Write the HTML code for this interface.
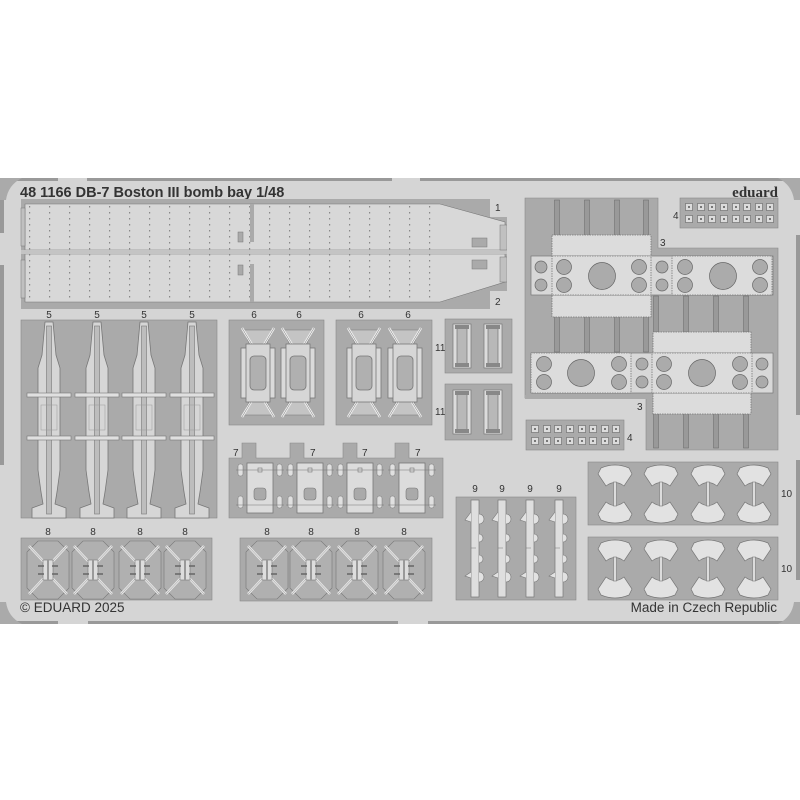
<!DOCTYPE html>
<html><head><meta charset="utf-8"><style>
html,body{margin:0;padding:0;background:#fff;}
svg{display:block}
text{font-family:"Liberation Sans",sans-serif;fill:#333}
</style></head><body>
<svg width="800" height="800" viewBox="0 0 800 800" xmlns="http://www.w3.org/2000/svg">
<defs>
<pattern id="dots" width="20" height="6" patternUnits="userSpaceOnUse">
<rect x="9" y="2" width="1.2" height="1.5" fill="#888"/>
</pattern>
<g id="r5">
<path d="M-4,322 L4,322 L7,355 L11,368 L11,470 L8,492 L6,504 L17,508 L17,518 L-17,518 L-17,508 L-6,504 L-8,492 L-11,470 L-11,368 L-7,355 Z" fill="#d6d6d6" stroke="#777" stroke-width="0.8"/>
<rect x="-2.5" y="326" width="5" height="188" fill="#bdbdbd" stroke="#777" stroke-width="0.6"/>
<rect x="-22" y="393" width="44" height="4" fill="#e0e0e0" stroke="#777" stroke-width="0.6"/>
<rect x="-22" y="436" width="44" height="4" fill="#e0e0e0" stroke="#777" stroke-width="0.6"/>
<rect x="-8" y="405" width="16" height="25" fill="none" stroke="#999" stroke-width="0.5"/>
</g>
<g id="p6">
<path d="M-15,330 L15,330 L8,345 L-8,345 Z M-15,415 L15,415 L8,400 L-8,400 Z" fill="#c4c4c4" stroke="#777" stroke-width="0.6"/>
<path d="M-16,328 L-4,348 M16,328 L4,348 M-16,417 L-4,397 M16,417 L4,397" stroke="#eee" stroke-width="2.5"/>
<path d="M-16,328 L-4,348 M16,328 L4,348 M-16,417 L-4,397 M16,417 L4,397" stroke="#777" stroke-width="0.5" fill="none"/>
<rect x="-17" y="348" width="34" height="50" fill="#dadada" stroke="#777" stroke-width="0.8"/>
<rect x="-12" y="344" width="24" height="58" fill="#d6d6d6" stroke="#777" stroke-width="0.8"/>
<rect x="-8" y="356" width="16" height="34" rx="4" fill="#b0b0b0" stroke="#777" stroke-width="0.8"/>
</g>
<g id="p7">
<rect x="-13" y="463" width="26" height="50" fill="#dcdcdc" stroke="#777" stroke-width="0.8"/>
<rect x="-2" y="468" width="4" height="4" fill="none" stroke="#777" stroke-width="0.6"/>
<rect x="-6" y="488" width="12" height="12" rx="3" fill="#aaa" stroke="#777" stroke-width="0.6"/>
<rect x="-22" y="464" width="5" height="12" rx="2" fill="#e0e0e0" stroke="#777" stroke-width="0.5"/>
<rect x="17" y="464" width="5" height="12" rx="2" fill="#e0e0e0" stroke="#777" stroke-width="0.5"/>
<rect x="-22" y="496" width="5" height="12" rx="2" fill="#e0e0e0" stroke="#777" stroke-width="0.5"/>
<rect x="17" y="496" width="5" height="12" rx="2" fill="#e0e0e0" stroke="#777" stroke-width="0.5"/>
<line x1="-24" y1="470" x2="24" y2="470" stroke="#777" stroke-width="0.5"/>
<line x1="-24" y1="505" x2="24" y2="505" stroke="#777" stroke-width="0.5"/>
</g>
<g id="p8">
<path d="M-10,541 L10,541 L21,552 L21,588 L10,599 L-10,599 L-21,588 L-21,552 Z" fill="#b0b0b0" stroke="#777" stroke-width="0.6"/>
<path d="M-19,546 L-4,562 M19,546 L4,562 M-19,594 L-4,578 M19,594 L4,578" stroke="#e6e6e6" stroke-width="2.5"/>
<path d="M-19,546 L-4,562 M19,546 L4,562 M-19,594 L-4,578 M19,594 L4,578" stroke="#777" stroke-width="0.4"/>
<rect x="-5" y="560" width="10" height="20" fill="#ddd" stroke="#777" stroke-width="0.6"/>
<rect x="-1" y="560" width="2" height="20" fill="#999"/>
<path d="M-10,566 h6 M4,566 h6 M-10,574 h6 M4,574 h6" stroke="#666" stroke-width="1.5"/>
</g>
<g id="p9">
<rect x="-4" y="500" width="8" height="97" fill="#dedede" stroke="#777" stroke-width="0.7"/>
<path d="M-4,512 L-10,520 L-4,522 M4,514 a5,5 0 0 1 0,10 M4,534 a4,4 0 0 1 0,8 M-4,548 h5 M4,555 a4,4 0 0 1 0,8 M-4,572 L-10,576 L-4,578 M4,572 a5,5 0 0 1 0,10" fill="#e2e2e2" stroke="#777" stroke-width="0.6"/>
</g>
<g id="p10">
<path d="M-14,4 Q0,-2 14,4 L17,10 L9,22 Q0,15 -9,22 L-17,10 Z" fill="#e2e2e2" stroke="#777" stroke-width="0.7"/>
<path d="M-14,56 Q0,62 14,56 L17,50 L9,38 Q0,45 -9,38 L-17,50 Z" fill="#e2e2e2" stroke="#777" stroke-width="0.7"/>
<rect x="-1.5" y="18" width="3" height="24" fill="#dcdcdc" stroke="#777" stroke-width="0.6"/>
</g>
<g id="p11">
<rect x="-9" y="0" width="18" height="44" fill="#dcdcdc" stroke="#777" stroke-width="0.7"/>
<rect x="-5" y="3" width="10" height="38" fill="#b8b8b8" stroke="#666" stroke-width="0.6"/>
<rect x="-7" y="1" width="14" height="4" fill="#888"/>
<rect x="-7" y="39" width="14" height="4" fill="#888"/>
</g>
<g id="sq">
<rect x="-3.5" y="-3.5" width="7" height="7" fill="#dcdcdc" stroke="#666" stroke-width="0.6"/>
<rect x="-1" y="-1" width="2" height="2" fill="#777"/>
</g>
<g id="pin">
<rect x="-2.5" y="0" width="5" height="36" fill="#999" stroke="#666" stroke-width="0.5"/>
</g>
</defs>

<rect x="0" y="178" width="800" height="446" fill="#d5d5d5"/>
<rect x="0" y="178" width="58" height="3" fill="#999"/>
<rect x="87" y="178" width="305" height="3" fill="#999"/>
<rect x="420" y="178" width="372" height="3" fill="#999"/>
<rect x="0" y="621" width="58" height="3" fill="#999"/>
<rect x="88" y="621" width="310" height="3" fill="#999"/>
<rect x="428" y="621" width="370" height="3" fill="#999"/>
<rect x="0" y="178" width="4" height="55" fill="#999"/>
<rect x="0" y="265" width="4" height="200" fill="#999"/>
<rect x="796" y="235" width="4" height="180" fill="#999"/>
<rect x="796" y="460" width="4" height="120" fill="#999"/>
<path d="M0,178 L22,178 Q8,185 6,200 L0,200Z" fill="#aaa"/>
<path d="M800,178 L778,178 Q792,185 794,200 L800,200Z" fill="#aaa"/>
<path d="M0,624 L22,624 Q8,617 6,602 L0,602Z" fill="#aaa"/>
<path d="M800,624 L778,624 Q792,617 794,602 L800,602Z" fill="#aaa"/>

<text x="20" y="197" font-size="14.5" font-weight="bold">48 1166 DB-7 Boston III bomb bay 1/48</text>
<text x="778" y="197" font-size="15" font-weight="bold" text-anchor="end" style="font-family:'Liberation Serif',serif">eduard</text>

<rect x="21" y="199" width="486" height="110" fill="#aaa"/>
<path d="M25,204 L440,204 L505,222 L505,250 L25,250 Z" fill="#d8d8d8" stroke="#777" stroke-width="0.6"/>
<path d="M25,254 L505,254 L505,282 L440,302 L25,302 Z" fill="#d8d8d8" stroke="#777" stroke-width="0.6"/>
<rect x="25" y="204" width="415" height="46" fill="url(#dots)"/>
<rect x="25" y="254" width="415" height="48" fill="url(#dots)"/>
<rect x="21" y="250" width="486" height="4" fill="#c4c4c4"/>
<rect x="21" y="208" width="4" height="38" fill="#c0c0c0" stroke="#777" stroke-width="0.5"/>
<rect x="21" y="260" width="4" height="38" fill="#c0c0c0" stroke="#777" stroke-width="0.5"/>
<rect x="250" y="204" width="4" height="38" fill="#aaa"/>
<rect x="250" y="264" width="4" height="38" fill="#aaa"/>
<rect x="238" y="232" width="5" height="10" fill="#aaa" stroke="#777" stroke-width="0.5"/>
<rect x="238" y="265" width="5" height="10" fill="#aaa" stroke="#777" stroke-width="0.5"/>
<rect x="472" y="238" width="15" height="9" fill="#aaa" stroke="#777" stroke-width="0.5"/>
<rect x="472" y="260" width="15" height="9" fill="#aaa" stroke="#777" stroke-width="0.5"/>
<rect x="500" y="225" width="7" height="25" fill="#c0c0c0" stroke="#777" stroke-width="0.5"/>
<rect x="500" y="257" width="7" height="25" fill="#c0c0c0" stroke="#777" stroke-width="0.5"/>
<rect x="507" y="199" width="10" height="110" fill="#d5d5d5"/>
<rect x="490" y="199" width="17" height="18" fill="#d5d5d5"/>
<rect x="490" y="291" width="17" height="18" fill="#d5d5d5"/>
<text x="495" y="211" font-size="10">1</text>
<text x="495" y="305" font-size="10">2</text>

<g font-size="10" text-anchor="middle">
<text x="49" y="318">5</text><text x="97" y="318">5</text><text x="144" y="318">5</text><text x="192" y="318">5</text>
<text x="254" y="318">6</text><text x="299" y="318">6</text><text x="361" y="318">6</text><text x="408" y="318">6</text>
</g>

<rect x="21" y="320" width="196" height="198" fill="#aaa" stroke="#888" stroke-width="0.6"/>
<use href="#r5" x="49"/><use href="#r5" x="97"/><use href="#r5" x="144"/><use href="#r5" x="192"/>

<rect x="229" y="320" width="95" height="105" fill="#aaa" stroke="#888" stroke-width="0.6"/>
<rect x="336" y="320" width="96" height="105" fill="#aaa" stroke="#888" stroke-width="0.6"/>
<use href="#p6" x="258"/><use href="#p6" x="298"/><use href="#p6" x="364"/><use href="#p6" x="405"/>

<rect x="445" y="319" width="67" height="54" fill="#aaa" stroke="#888" stroke-width="0.6"/>
<rect x="445" y="384" width="67" height="56" fill="#aaa" stroke="#888" stroke-width="0.6"/>
<use href="#p11" x="462" y="324"/><use href="#p11" x="493" y="324"/>
<use href="#p11" x="462" y="390"/><use href="#p11" x="493" y="390"/>
<text x="435" y="351" font-size="10">11</text>
<text x="435" y="415" font-size="10">11</text>

<path d="M229,458 L242,458 L242,443 L256,443 L256,458 L290,458 L290,443 L304,443 L304,458 L343,458 L343,443 L357,443 L357,458 L395,458 L395,443 L409,443 L409,458 L443,458 L443,518 L229,518 Z" fill="#aaa" stroke="#888" stroke-width="0.6"/>
<use href="#p7" x="260"/><use href="#p7" x="310"/><use href="#p7" x="360"/><use href="#p7" x="412"/>
<g font-size="10"><text x="233" y="456">7</text><text x="310" y="456">7</text><text x="362" y="456">7</text><text x="415" y="456">7</text></g>

<rect x="21" y="538" width="191" height="62" fill="#aaa" stroke="#888" stroke-width="0.6"/>
<rect x="240" y="538" width="192" height="63" fill="#aaa" stroke="#888" stroke-width="0.6"/>
<use href="#p8" x="48"/><use href="#p8" x="93"/><use href="#p8" x="140"/><use href="#p8" x="185"/>
<use href="#p8" x="267"/><use href="#p8" x="311"/><use href="#p8" x="357"/><use href="#p8" x="404"/>
<g font-size="10" text-anchor="middle">
<text x="48" y="535">8</text><text x="93" y="535">8</text><text x="140" y="535">8</text><text x="185" y="535">8</text>
<text x="267" y="535">8</text><text x="311" y="535">8</text><text x="357" y="535">8</text><text x="404" y="535">8</text>
</g>

<rect x="456" y="497" width="120" height="103" fill="#aaa" stroke="#888" stroke-width="0.6"/>
<use href="#p9" x="475"/><use href="#p9" x="502"/><use href="#p9" x="530"/><use href="#p9" x="559"/>
<g font-size="10" text-anchor="middle"><text x="475" y="492">9</text><text x="502" y="492">9</text><text x="530" y="492">9</text><text x="559" y="492">9</text></g>

<rect x="588" y="462" width="190" height="63" fill="#aaa" stroke="#888" stroke-width="0.6"/>
<rect x="588" y="537" width="190" height="63" fill="#aaa" stroke="#888" stroke-width="0.6"/>
<use href="#p10" x="615" y="464"/><use href="#p10" x="661" y="464"/><use href="#p10" x="708" y="464"/><use href="#p10" x="754" y="464"/>
<use href="#p10" x="615" y="539"/><use href="#p10" x="661" y="539"/><use href="#p10" x="708" y="539"/><use href="#p10" x="754" y="539"/>
<text x="781" y="497" font-size="10">10</text>
<text x="781" y="572" font-size="10">10</text>

<rect x="680" y="198" width="98" height="30" fill="#aaa" stroke="#888" stroke-width="0.6"/>
<rect x="526" y="420" width="98" height="30" fill="#aaa" stroke="#888" stroke-width="0.6"/>
<g>
<use href="#sq" x="689" y="207"/><use href="#sq" x="701" y="207"/><use href="#sq" x="712" y="207"/><use href="#sq" x="724" y="207"/><use href="#sq" x="736" y="207"/><use href="#sq" x="747" y="207"/><use href="#sq" x="759" y="207"/><use href="#sq" x="770" y="207"/>
<use href="#sq" x="689" y="219"/><use href="#sq" x="701" y="219"/><use href="#sq" x="712" y="219"/><use href="#sq" x="724" y="219"/><use href="#sq" x="736" y="219"/><use href="#sq" x="747" y="219"/><use href="#sq" x="759" y="219"/><use href="#sq" x="770" y="219"/>
<use href="#sq" x="535" y="429"/><use href="#sq" x="547" y="429"/><use href="#sq" x="558" y="429"/><use href="#sq" x="570" y="429"/><use href="#sq" x="582" y="429"/><use href="#sq" x="593" y="429"/><use href="#sq" x="605" y="429"/><use href="#sq" x="616" y="429"/>
<use href="#sq" x="535" y="441"/><use href="#sq" x="547" y="441"/><use href="#sq" x="558" y="441"/><use href="#sq" x="570" y="441"/><use href="#sq" x="582" y="441"/><use href="#sq" x="593" y="441"/><use href="#sq" x="605" y="441"/><use href="#sq" x="616" y="441"/>
</g>
<text x="673" y="219" font-size="10">4</text>
<text x="627" y="441" font-size="10">4</text>

<path d="M525,198 L658,198 L658,248 L778,248 L778,450 L646,450 L646,398 L525,398 Z" fill="#aaa" stroke="#888" stroke-width="0.6"/>
<use href="#pin" x="557" y="200"/><use href="#pin" x="587" y="200"/><use href="#pin" x="617" y="200"/><use href="#pin" x="646" y="200"/>
<use href="#pin" x="557" y="316"/><use href="#pin" x="587" y="316"/><use href="#pin" x="617" y="316"/><use href="#pin" x="646" y="316"/>
<use href="#pin" x="656" y="296"/><use href="#pin" x="686" y="296"/><use href="#pin" x="716" y="296"/><use href="#pin" x="746" y="296"/>
<use href="#pin" x="656" y="412"/><use href="#pin" x="686" y="412"/><use href="#pin" x="716" y="412"/><use href="#pin" x="746" y="412"/>
<rect x="525" y="395" width="125" height="4" fill="#aaa"/>
<rect x="552" y="235" width="99" height="22" fill="#dcdcdc" stroke="#777" stroke-width="0.8" stroke-dasharray="1.5 1"/>
<rect x="552" y="295" width="99" height="22" fill="#dcdcdc" stroke="#777" stroke-width="0.8" stroke-dasharray="1.5 1"/>
<rect x="531" y="256" width="242" height="39" fill="#d8d8d8" stroke="#777" stroke-width="0.7"/>
<rect x="552" y="256" width="99" height="39" fill="#dcdcdc" stroke="#777" stroke-width="0.8" stroke-dasharray="1.5 1"/>
<rect x="672" y="256" width="100" height="39" fill="#dcdcdc" stroke="#777" stroke-width="0.8" stroke-dasharray="1.5 1"/>
<rect x="653" y="332" width="98" height="22" fill="#dcdcdc" stroke="#777" stroke-width="0.8" stroke-dasharray="1.5 1"/>
<rect x="653" y="392" width="98" height="22" fill="#dcdcdc" stroke="#777" stroke-width="0.8" stroke-dasharray="1.5 1"/>
<rect x="531" y="353" width="242" height="40" fill="#d8d8d8" stroke="#777" stroke-width="0.7"/>
<rect x="531" y="353" width="100" height="40" fill="#dcdcdc" stroke="#777" stroke-width="0.8" stroke-dasharray="1.5 1"/>
<rect x="652" y="353" width="100" height="40" fill="#dcdcdc" stroke="#777" stroke-width="0.8" stroke-dasharray="1.5 1"/>
<g fill="#ababab" stroke="#666" stroke-width="0.7">
<circle cx="541" cy="267" r="6"/><circle cx="541" cy="285" r="6"/>
<circle cx="564" cy="267" r="7.5"/><circle cx="564" cy="285" r="7.5"/>
<circle cx="602" cy="276" r="13.5"/>
<circle cx="639" cy="267" r="7.5"/><circle cx="639" cy="285" r="7.5"/>
<circle cx="662" cy="267" r="6"/><circle cx="662" cy="285" r="6"/>
<circle cx="685" cy="267" r="7.5"/><circle cx="685" cy="285" r="7.5"/>
<circle cx="723" cy="276" r="13.5"/>
<circle cx="760" cy="267" r="7.5"/><circle cx="760" cy="285" r="7.5"/>
<circle cx="544" cy="364" r="7.5"/><circle cx="544" cy="382" r="7.5"/>
<circle cx="581" cy="373" r="13.5"/>
<circle cx="619" cy="364" r="7.5"/><circle cx="619" cy="382" r="7.5"/>
<circle cx="642" cy="364" r="6"/><circle cx="642" cy="382" r="6"/>
<circle cx="664" cy="364" r="7.5"/><circle cx="664" cy="382" r="7.5"/>
<circle cx="702" cy="373" r="13.5"/>
<circle cx="740" cy="364" r="7.5"/><circle cx="740" cy="382" r="7.5"/>
<circle cx="762" cy="364" r="6"/><circle cx="762" cy="382" r="6"/>
</g>
<text x="660" y="246" font-size="10">3</text>
<text x="637" y="410" font-size="10">3</text>

<text x="20" y="612" font-size="13.5">© EDUARD 2025</text>
<text x="777" y="612" font-size="13.5" text-anchor="end">Made in Czech Republic</text>
</svg>
</body></html>
